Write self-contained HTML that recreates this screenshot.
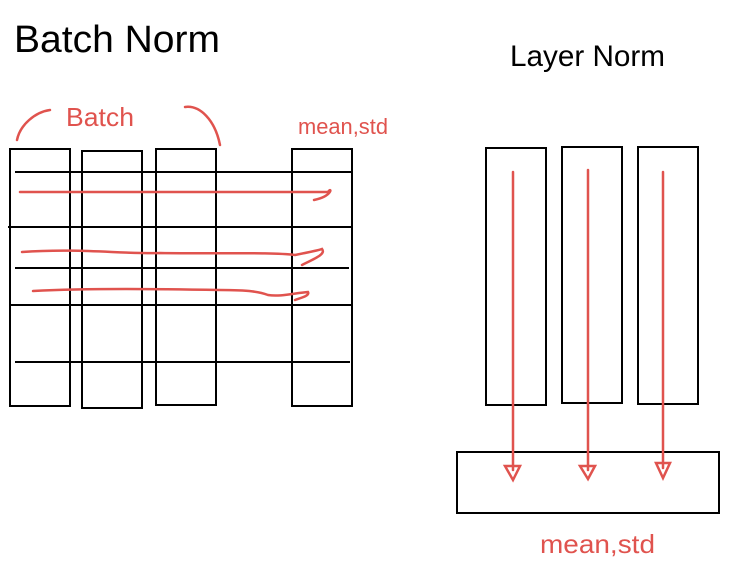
<!DOCTYPE html>
<html><head><style>html,body{margin:0;padding:0;background:#fff;}svg{display:block}</style></head>
<body>
<svg width="743" height="562" viewBox="0 0 743 562" xmlns="http://www.w3.org/2000/svg">
<rect width="743" height="562" fill="#fff"/>
<text x="14" y="52" font-family="Liberation Sans, sans-serif" font-size="38" fill="#000" textLength="206" lengthAdjust="spacingAndGlyphs">Batch Norm</text>
<text x="510" y="66" font-family="Liberation Sans, sans-serif" font-size="30" fill="#000" textLength="155" lengthAdjust="spacingAndGlyphs">Layer Norm</text>
<g fill="none" stroke="#000" stroke-width="2">
<rect x="10" y="149" width="60" height="257"/>
<rect x="82" y="151" width="60" height="257"/>
<rect x="156" y="149" width="60" height="256"/>
<rect x="292" y="149" width="60" height="257"/>
<line x1="15" y1="172" x2="352" y2="172"/>
<line x1="8" y1="227" x2="352" y2="227"/>
<line x1="15" y1="268" x2="349" y2="268"/>
<line x1="10" y1="305" x2="352" y2="305"/>
<line x1="15" y1="362" x2="350" y2="362"/>
<rect x="486" y="148" width="60" height="257"/>
<rect x="562" y="147" width="60" height="256"/>
<rect x="638" y="147" width="60" height="257"/>
<rect x="457" y="452" width="262" height="61"/>
</g>
<g fill="none" stroke="#e0534e" stroke-width="2.5" stroke-linecap="round">
<path d="M20 192 L328 192 C332 186 333 196 314 200"/>
<path d="M22 252 C80 248 120 254 160 253 C220 254 270 252 295 255 C305 253 320 250 322 249 C326 254 316 258 302 265"/>
<path d="M33 291 C90 288 160 289 220 290 C250 290 260 292 268 295 C280 297 295 293 308 292 C310 296 300 298 295 300"/>
<path d="M17 140 C20 125 35 112 50 110"/>
<path d="M185 107 C200 105 215 120 220 145"/>
<path d="M513 172 L513 470 M505 466 L520 466 L513 480 Z"/>
<path d="M588 170 L588 470 M580 466 L595 466 L588 479 Z"/>
<path d="M663 172 L663 468 M656 463 L670 463 L663 478 Z"/>
</g>
<text x="66" y="126" font-family="Liberation Sans, sans-serif" font-size="26" fill="#e0534e" textLength="68" lengthAdjust="spacingAndGlyphs">Batch</text>
<text x="298" y="134" font-family="Liberation Sans, sans-serif" font-size="22" fill="#e0534e" textLength="90" lengthAdjust="spacingAndGlyphs">mean,std</text>
<text x="540" y="553" font-family="Liberation Sans, sans-serif" font-size="26" fill="#e0534e" textLength="115" lengthAdjust="spacingAndGlyphs">mean,std</text>
</svg>
</body></html>
